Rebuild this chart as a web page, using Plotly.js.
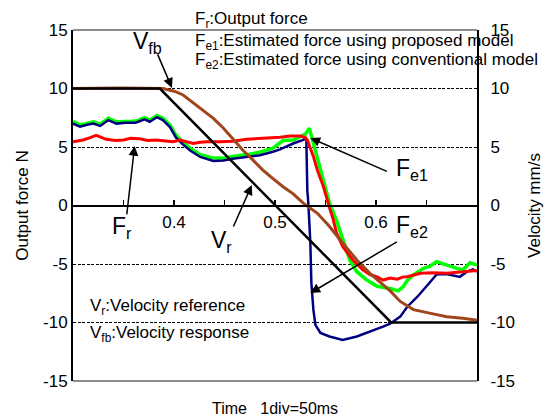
<!DOCTYPE html>
<html>
<head>
<meta charset="utf-8">
<script src="https://cdn.plot.ly/plotly-3.0.1.min.js"></script>
<style>html,body{margin:0;padding:0;background:#fff}#chart{width:549px;height:420px}</style>
</head>
<body>
<div id="chart"></div>
<script>
// Time axis (s), 1 div = 50 ms
const xTickVals = [0.3, 0.35, 0.4, 0.45, 0.5, 0.55, 0.6, 0.65, 0.7];
const xTickText = ['', '', '0.4', '', '0.5', '', '0.6', '', ''];
const yTickVals = [-15, -10, -5, 0, 5, 10, 15];
const yTickText = ['-15', '-10', '-5', '0', '5', '10', '15'];

// Fr: output force
const frT = [0.300,0.310,0.317,0.323,0.333,0.342,0.350,0.357,0.366,0.374,0.382,0.391,0.399,0.406,0.413,0.419,0.426,0.433,0.446,0.458,0.472,0.488,0.505,0.515,0.525,0.530,0.532,0.538,0.542,0.548,0.551,0.554,0.557,0.561,0.567,0.577,0.587,0.594,0.601,0.607,0.614,0.621,0.627,0.631,0.644,0.656,0.670,0.686,0.693,0.700];
const fr  = [5.45,5.6,5.8,6.0,5.66,5.55,5.6,5.75,5.7,5.55,5.6,5.5,5.45,5.6,5.45,5.3,5.4,5.45,5.45,5.5,5.66,5.74,5.83,5.94,5.94,5.8,5.6,4.2,3.0,1.6,0.6,-0.2,-1.0,-2.35,-3.5,-4.66,-5.5,-5.9,-6.1,-6.37,-6.2,-6.3,-6.1,-6.08,-5.8,-5.74,-5.8,-5.66,-5.6,-5.55];

// Fe1: estimated force using proposed model
const fe1T = [0.300,0.307,0.313,0.320,0.327,0.335,0.343,0.352,0.362,0.371,0.376,0.383,0.389,0.396,0.402,0.409,0.416,0.426,0.439,0.449,0.458,0.472,0.485,0.498,0.508,0.518,0.525,0.530,0.534,0.538,0.542,0.547,0.551,0.554,0.561,0.567,0.574,0.581,0.591,0.601,0.614,0.622,0.627,0.631,0.637,0.647,0.653,0.660,0.670,0.680,0.686,0.693,0.700];
const fe1  = [7.2,6.9,7.0,7.15,6.95,7.45,7.15,7.2,7.2,7.5,7.3,7.7,7.45,6.9,6.0,5.4,4.9,4.35,4.05,4.05,4.2,4.35,4.55,4.9,5.55,5.6,5.9,6.1,6.6,5.3,3.9,2.46,1.04,0.2,-1.3,-2.95,-4.66,-5.66,-6.37,-6.9,-7.1,-7.3,-6.94,-6.4,-5.94,-5.37,-5.2,-4.8,-5.1,-5.37,-5.5,-4.9,-5.1];

// Fe2: estimated force using conventional model
const fe2T = [0.300,0.307,0.313,0.320,0.327,0.335,0.343,0.352,0.362,0.371,0.376,0.383,0.389,0.396,0.402,0.409,0.416,0.426,0.439,0.449,0.458,0.472,0.485,0.498,0.505,0.518,0.528,0.531,0.532,0.533,0.535,0.536,0.538,0.540,0.545,0.554,0.567,0.581,0.594,0.607,0.614,0.624,0.631,0.641,0.653,0.660,0.670,0.676,0.683,0.690,0.696,0.700];
const fe2  = [7.0,6.74,6.88,7.0,6.8,7.3,7.0,7.08,7.08,7.37,7.16,7.55,7.3,6.7,5.8,5.2,4.7,4.15,3.8,3.85,4.0,4.17,4.3,4.6,4.8,5.3,5.6,5.77,1.3,0.2,-3.2,-6.6,-8.9,-10.2,-10.9,-11.2,-11.5,-11.2,-10.8,-10.36,-10.1,-9.5,-8.65,-7.8,-6.6,-5.9,-5.85,-5.94,-6.1,-5.66,-5.45,-5.66];

// Vr: velocity reference
const vrT = [0.300, 0.386, 0.615, 0.700];
const vr  = [10, 10, -10, -10];

// Vfb: velocity response
const vfbT = [0.300,0.347,0.389,0.401,0.409,0.416,0.426,0.439,0.449,0.458,0.468,0.478,0.488,0.498,0.508,0.518,0.528,0.542,0.554,0.567,0.581,0.594,0.607,0.614,0.624,0.637,0.653,0.670,0.686,0.700];
const vfb  = [10.0,10.05,10.0,9.75,9.45,9.0,8.3,7.45,6.6,5.74,4.74,3.9,3.03,2.3,1.6,1.0,0.2,-0.67,-1.8,-3.2,-4.66,-5.8,-6.8,-7.3,-8.2,-8.9,-9.2,-9.5,-9.64,-9.8];

const FONT = 'Liberation Sans, Arial, sans-serif';

const traces = [
  {x: fe1T, y: fe1, mode: 'lines', line: {color: '#00FF00', width: 3.5}, name: 'Fe1'},
  {x: fe2T, y: fe2, mode: 'lines', line: {color: '#000080', width: 2.5}, name: 'Fe2'},
  {x: frT, y: fr, mode: 'lines', line: {color: '#FF0000', width: 3}, name: 'Fr'},
  {x: vfbT, y: vfb, mode: 'lines', line: {color: '#A0451C', width: 3}, name: 'Vfb', yaxis: 'y2'},
  {x: vrT, y: vr, mode: 'lines', line: {color: '#000000', width: 2.5}, name: 'Vr', yaxis: 'y2'}
];

function arrow(x, y, ax, ay) {
  return {x: x, y: y, ax: ax, ay: ay, xref: 'x', yref: 'y', text: '', showarrow: true,
          arrowhead: 2, arrowsize: 1.3, arrowwidth: 1.5, arrowcolor: '#000'};
}
function label(x, y, text, size, anchor) {
  return {x: x, y: y, xref: 'x', yref: 'y', text: text, showarrow: false,
          xanchor: anchor || 'center', yanchor: 'middle', font: {family: FONT, size: size, color: '#000'}};
}
function plabel(x, y, text, size, anchor) {
  return {x: x, y: y, xref: 'paper', yref: 'paper', text: text, showarrow: false,
          xanchor: anchor || 'center', yanchor: 'middle', font: {family: FONT, size: size, color: '#000'}};
}

const annotations = [
  plabel(0.297, 1.028, 'F<sub>r</sub>:Output force', 17, 'left'),
  plabel(0.297, 0.967, 'F<sub>e1</sub>:Estimated force using proposed model', 17, 'left'),
  plabel(0.297, 0.912, 'F<sub>e2</sub>:Estimated force using conventional model', 17, 'left'),
  label(0.3148, -8.7, 'V<sub>r</sub>:Velocity reference', 17, 'left'),
  label(0.3148, -11.0, 'V<sub>fb</sub>:Velocity response', 17, 'left'),
  label(0.374, 13.9, 'V<sub>fb</sub>', 23),
  label(0.349, -1.9, 'F<sub>r</sub>', 23),
  label(0.4475, -3.1, 'V<sub>r</sub>', 23),
  label(0.6356, 3.1, 'F<sub>e1</sub>', 23),
  label(0.6356, -1.8, 'F<sub>e2</sub>', 23),
  arrow(0.398, 10.05, -15, -35),
  arrow(0.361, 5.09, -8, 70),
  arrow(0.477, 1.75, -19, 43),
  arrow(0.535, 5.77, 78, 34),
  arrow(0.535, -7.48, 88, -52),
  plabel(0.5, -0.077, 'Time\u00a0\u00a0 1div=50ms', 16)
];

const layout = {
  width: 549, height: 420,
  margin: {l: 73, r: 72, t: 30, b: 39},
  paper_bgcolor: '#fff', plot_bgcolor: '#fff',
  showlegend: false,
  font: {family: FONT, size: 17, color: '#000'},
  xaxis: {range: [0.3, 0.7], anchor: 'free', position: 0.5, showline: true, linecolor: '#000', linewidth: 2,
          ticks: 'inside', ticklen: 5, tickwidth: 1.5, tickcolor: '#000',
          tickmode: 'array', tickvals: xTickVals, ticktext: xTickText, ticklabelstandoff: 1,
          showgrid: false, zeroline: false, tickfont: {family: FONT, size: 17, color: '#000'}},
  yaxis: {range: [-15, 15], tickmode: 'array', tickvals: yTickVals, ticktext: yTickText,
          showline: true, linecolor: '#000', linewidth: 2,
          ticks: '', showgrid: true, gridcolor: '#000', gridwidth: 1, griddash: '3px,1.5px', zeroline: false,
          tickfont: {family: FONT, size: 17, color: '#000'},
          title: {text: 'Output force N', font: {family: FONT, size: 17, color: '#000'}}},
  yaxis2: {range: [-15, 15], overlaying: 'y', side: 'right', tickmode: 'array', tickvals: yTickVals, ticktext: yTickText,
           showline: true, linecolor: '#000', linewidth: 2, ticks: '', showgrid: false, zeroline: false,
           ticklabelstandoff: 8,
           tickfont: {family: FONT, size: 17, color: '#000'},
           title: {text: 'Velocity mm/s', standoff: 14, font: {family: FONT, size: 17, color: '#000'}}},
  shapes: [
    {type: 'line', xref: 'paper', yref: 'paper', x0: 0, x1: 1, y0: 1, y1: 1, line: {color: '#8c8c8c', width: 2}, layer: 'above'},
    {type: 'line', xref: 'paper', yref: 'paper', x0: 0, x1: 1, y0: 0, y1: 0, line: {color: '#8c8c8c', width: 2}, layer: 'above'}
  ],
  annotations: annotations
};

Plotly.newPlot('chart', traces, layout, {displayModeBar: false, staticPlot: true});
</script>
</body>
</html>
